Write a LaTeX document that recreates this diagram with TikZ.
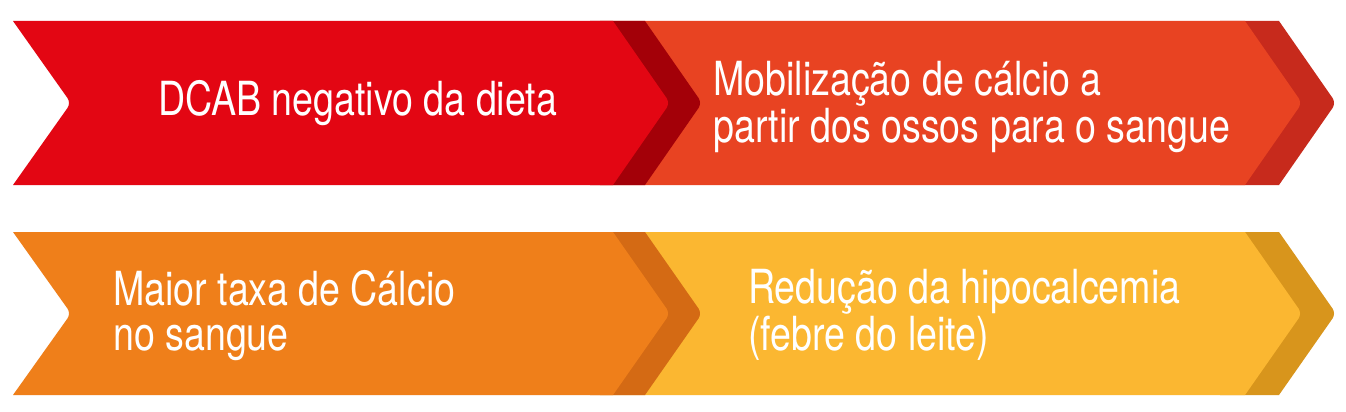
\documentclass[tikz,border=0pt]{standalone}
\usepackage{fontspec}
\setmainfont{TeX Gyre Heros}[FakeStretch=0.8]

\definecolor{cRed}{HTML}{E30613}
\definecolor{cRedDk}{HTML}{A30008}
\definecolor{cOrRed}{HTML}{E84322}
\definecolor{cOrRedDk}{HTML}{C72A1C}
\definecolor{cOrange}{HTML}{EF7F1A}
\definecolor{cOrangeDk}{HTML}{D46A14}
\definecolor{cYellow}{HTML}{FBB731}
\definecolor{cYellowDk}{HTML}{D8951C}

\begin{document}
\begin{tikzpicture}[x=1pt,y=-1pt,
  lbl/.style={anchor=base west, inner sep=0pt, text=white, align=left,
    font=\fontsize{47}{45}\selectfont},
  rc/.style={rounded corners=6pt}]
\useasboundingbox (0,0) rectangle (1346,412);
\fill[white] (0,0) rectangle (1346,412);

% ---------- top row ----------
\fill[cOrRedDk] (1220,21) -- (1279,21) [rc] -- (1336,103) [sharp corners] -- (1279,185) -- (1220,185) -- cycle;
\fill[cOrRed] (600,21) -- (1245,21) [rc] -- (1302,103) [sharp corners] -- (1245,185) -- (600,185) -- cycle;
\fill[cRedDk] (590,21) -- (645,21) [rc] -- (702,103) [sharp corners] -- (645,185) -- (590,185) -- cycle;
\fill[cRed] (13,21) -- (613,21) [rc] -- (670,103) [sharp corners] -- (613,185) -- (13,185) [rc] -- (71,103) [sharp corners] -- cycle;

% ---------- bottom row ----------
\fill[cYellowDk] (1220,232) -- (1279,232) [rc] -- (1336,313.5) [sharp corners] -- (1279,395) -- (1220,395) -- cycle;
\fill[cYellow] (600,232) -- (1245,232) [rc] -- (1302,313.5) [sharp corners] -- (1245,395) -- (600,395) -- cycle;
\fill[cOrangeDk] (590,232) -- (645,232) [rc] -- (702,313.5) [sharp corners] -- (645,395) -- (590,395) -- cycle;
\fill[cOrange] (13,232) -- (613,232) [rc] -- (670,313.5) [sharp corners] -- (613,395) -- (13,395) [rc] -- (71,313.5) [sharp corners] -- cycle;

% ---------- texts (base anchor = last line's baseline) ----------
\node[lbl] (t1) at (158,115) {DCAB negativo da dieta};
\node[lbl] (t2) at (713,142) {Mobilização de cálcio a\\partir dos ossos para o sangue};
\node[lbl] (t3) at (113,350) {Maior taxa de Cálcio\\no sangue};
\node[lbl] (t4) at (748,350) {Redução da hipocalcemia\\(febre do leite)};
\end{tikzpicture}
\end{document}
